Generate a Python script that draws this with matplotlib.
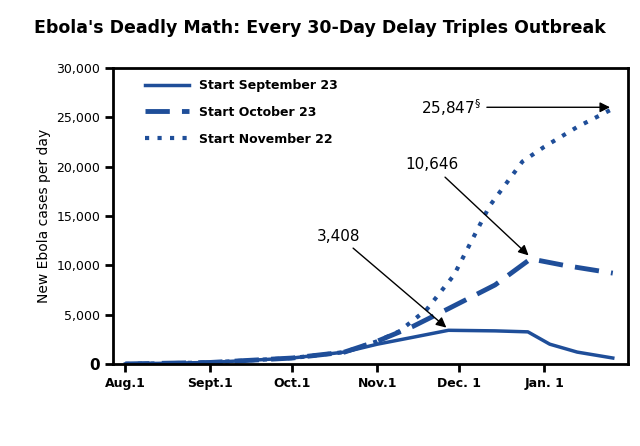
import matplotlib.pyplot as plt

tick_days = [0, 31, 61, 92, 122, 153]
tick_labels = ["Aug.1", "Sept.1", "Oct.1", "Nov.1", "Dec. 1", "Jan. 1"]

sep_days = [0, 31, 61, 80, 92, 105, 118, 135, 147, 155, 165, 178]
sep_vals = [0, 150, 600, 1200, 2000, 2700, 3408, 3350, 3250, 2000, 1200, 600]

oct_days = [0, 31, 61, 80, 92, 105, 118, 135, 148, 160, 178]
oct_vals = [0, 150, 600, 1200, 2300, 3800, 5600, 8000, 10646, 10000, 9200]

nov_days = [0, 31, 61, 80, 92, 100, 110, 120, 133, 145, 153, 165, 178]
nov_vals = [0, 150, 600, 1200, 2300, 3300, 5500, 9000, 16000, 20500, 22000, 24000, 25847]

blue = "#1f4e99"
fig = plt.figure(figsize=(6.4, 4.46), dpi=100)
ax = fig.add_axes([0.177, 0.184, 0.804, 0.664])
ax.plot(sep_days, sep_vals, color=blue, lw=2.5, label="Start September 23")
ax.plot(oct_days, oct_vals, color=blue, lw=3.5, dashes=(5, 2.5), label="Start October 23")
ax.plot(nov_days, nov_vals, color=blue, lw=3, ls=(0, (1, 2)), label="Start November 22")

ax.set_xlim(-4.4, 183.5)
ax.set_ylim(0, 30000)
ax.set_xticks(tick_days)
ax.set_xticklabels(tick_labels, fontweight="bold", fontsize=9)
ax.set_yticks(range(0, 30001, 5000))
ax.set_yticklabels(["0"] + [f"{v:,}" for v in range(5000, 30001, 5000)], fontsize=9)
ax.get_yticklabels()[0].set_fontweight("bold")
ax.get_yticklabels()[0].set_fontsize(11)
for s in ax.spines.values():
    s.set_linewidth(2)
ax.tick_params(width=2, length=6)
ax.set_ylabel("New Ebola cases per day", fontsize=10)
ax.legend(loc="upper left", bbox_to_anchor=(0.04, 1.0), frameon=False,
          handlelength=3.5, prop={"weight": "bold", "size": 9}, labelspacing=1.1)

ap = dict(arrowstyle="-|>", color="black", lw=1, mutation_scale=15)
ax.annotate("3,408", xy=(118, 3500), xytext=(78, 12500), fontsize=11,
            arrowprops=ap, ha="center")
ax.annotate("10,646", xy=(148, 10800), xytext=(112, 19700), fontsize=11,
            arrowprops=ap, ha="center")
ax.annotate("25,847$^{\\S}$", xy=(178, 26000), xytext=(130, 26000), fontsize=11,
            arrowprops=ap, ha="right", va="center")

fig.text(0.5, 0.925, "Ebola's Deadly Math: Every 30-Day Delay Triples Outbreak",
         ha="center", fontsize=12.5, fontweight="bold")
fig.savefig("out.png")
